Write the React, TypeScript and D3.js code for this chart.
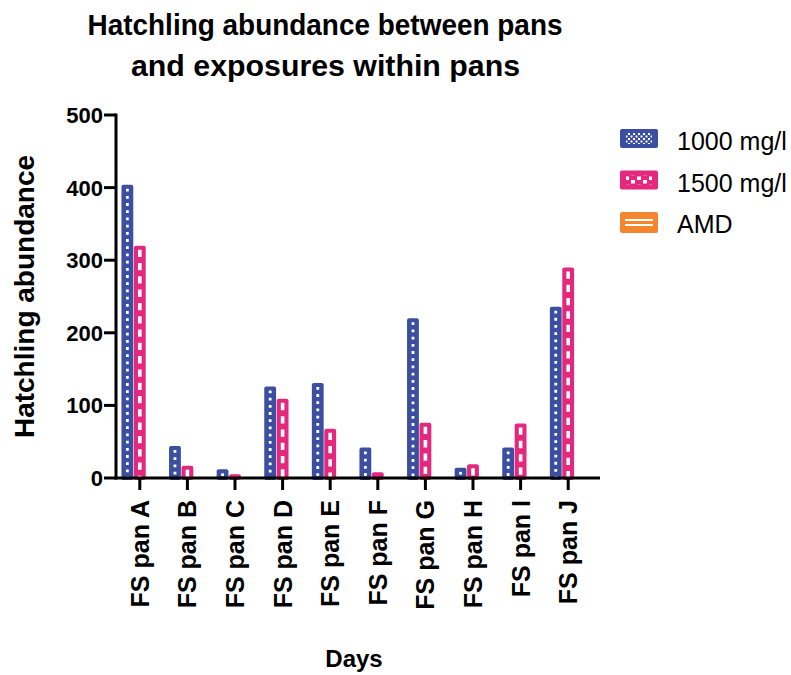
import React from "react";
import * as d3 from "d3";

// Pans along the x axis
const categories = [
  "FS pan A", "FS pan B", "FS pan C", "FS pan D", "FS pan E",
  "FS pan F", "FS pan G", "FS pan H", "FS pan I", "FS pan J",
];
// Series names (AMD has no bars drawn)
const seriesNames = ["1000 mg/l", "1500 mg/l", "AMD"];
const values1000 = [404, 44, 12, 126, 131, 42, 220, 14, 42, 236];
const values1500 = [320, 17, 5, 109, 68, 8, 76, 19, 75, 290];
const valuesAMD: (number | null)[] = [null, null, null, null, null, null, null, null, null, null];
const yTicks = [0, 100, 200, 300, 400, 500];
const titleLines = ["Hatchling abundance between pans", "and exposures within pans"];

const W = 791;
const H = 675;
const FONT = "'Liberation Sans', Arial, Helvetica, sans-serif";
const BLUE = "#3b4ea0";
const PINK = "#e4287d";
const ORANGE = "#f5862e";

const plot = { left: 116, right: 592, top: 115, bottom: 478 };

export default function App() {
  const x = d3.scaleBand<string>().domain(categories).range([plot.left, plot.right]);
  const groupWidth = 37.3;
  const xs = d3.scaleBand<string>().domain(seriesNames).range([0, groupWidth]);
  const y = d3.scaleLinear().domain([0, 500]).range([plot.bottom, plot.top]);

  const series = [
    { name: seriesNames[0], values: values1000, color: BLUE, dashW: 2.8, dash: "2.8 4.4" },
    { name: seriesNames[1], values: values1500, color: PINK, dashW: 3.6, dash: "7.3 6" },
    { name: seriesNames[2], values: valuesAMD, color: ORANGE, dashW: 2, dash: "" },
  ];

  const bw = xs.bandwidth();

  return (
    <svg width={W} height={H} style={{ position: "absolute", left: 0, top: 0, background: "#fff" }}>
      <defs>
        <pattern id="pat-blue" width="5" height="5" patternUnits="userSpaceOnUse">
          <rect width="5" height="5" fill={BLUE} />
          <rect x="0.5" y="0.5" width="2" height="2" fill="#fff" />
          <rect x="3" y="3" width="2" height="2" fill="#fff" />
        </pattern>
        <pattern id="pat-pink" width="12" height="8" patternUnits="userSpaceOnUse">
          <rect width="12" height="8" fill={PINK} />
          <rect x="1" y="0.5" width="4" height="3.5" fill="#fff" />
          <rect x="7" y="4" width="4" height="3.5" fill="#fff" />
        </pattern>
      </defs>

      {/* Title */}
      <text x={325} y={35} textAnchor="middle" fontFamily={FONT} fontWeight="bold" fontSize={30}
        textLength={475} lengthAdjust="spacingAndGlyphs">
        {titleLines[0]}
      </text>
      <text x={325.5} y={76} textAnchor="middle" fontFamily={FONT} fontWeight="bold" fontSize={30}
        textLength={389} lengthAdjust="spacingAndGlyphs">
        {titleLines[1]}
      </text>

      {/* Bars */}
      {series.map((s) =>
        categories.map((c, i) => {
          const v = s.values[i];
          if (v == null) return null;
          const bx = (x(c) as number) + (x.bandwidth() - groupWidth) / 2 + (xs(s.name) as number);
          const top = y(v);
          const h = plot.bottom - top;
          const cx = bx + bw / 2;
          return (
            <g key={s.name + c}>
              <rect x={bx + 0.3} y={top} width={bw - 0.6} height={h + 2} rx={2} fill={s.color} />
              {h > 6 && (
                <line
                  x1={cx}
                  x2={cx}
                  y1={top + 4}
                  y2={plot.bottom}
                  stroke="#fff"
                  strokeWidth={s.dashW}
                  strokeDasharray={s.dash}
                />
              )}
            </g>
          );
        })
      )}

      {/* Y axis */}
      <line x1={plot.left} x2={plot.left} y1={plot.top - 1.5} y2={plot.bottom + 1.5} stroke="#000" strokeWidth={3} />
      {yTicks.map((t) => (
        <g key={t}>
          <line x1={plot.left - 12} x2={plot.left} y1={y(t)} y2={y(t)} stroke="#000" strokeWidth={3} />
          <text x={plot.left - 13} y={y(t) + 8} textAnchor="end" fontFamily={FONT} fontWeight="bold" fontSize={22}>
            {t}
          </text>
        </g>
      ))}

      {/* X axis */}
      <line x1={plot.left - 1.5} x2={plot.right + 8} y1={plot.bottom} y2={plot.bottom} stroke="#000" strokeWidth={3} />
      {categories.map((c) => {
        const cx = (x(c) as number) + x.bandwidth() / 2;
        return (
          <g key={c}>
            <line x1={cx} x2={cx} y1={plot.bottom} y2={plot.bottom + 12} stroke="#000" strokeWidth={3} />
            <text
              transform={`translate(${cx + 9},${plot.bottom + 22}) rotate(-90)`}
              textAnchor="end"
              fontFamily={FONT}
              fontWeight="bold"
              fontSize={25}
            >
              {c}
            </text>
          </g>
        );
      })}

      {/* Axis titles */}
      <text
        transform={`translate(34,${(plot.top + plot.bottom) / 2}) rotate(-90)`}
        textAnchor="middle"
        fontFamily={FONT}
        fontWeight="bold"
        fontSize={28}
      >
        Hatchling abundance
      </text>
      <text x={354} y={667} textAnchor="middle" fontFamily={FONT} fontWeight="bold" fontSize={24}>
        Days
      </text>

      {/* Legend */}
      {series.map((s, i) => {
        const ly = 129 + i * 41.5;
        return (
          <g key={s.name}>
            {i === 0 && (
              <>
                <rect x={620} y={ly} width={38} height={19} rx={2} fill={BLUE} />
                <rect x={626} y={ly + 4} width={26} height={11} fill="url(#pat-blue)" />
              </>
            )}
            {i === 1 && (
              <>
                <rect x={620} y={ly} width={38} height={19} rx={2} fill={PINK} />
                <rect x={626} y={ly + 5} width={26} height={9} fill="url(#pat-pink)" />
              </>
            )}
            {i === 2 && (
              <>
                <rect x={620} y={ly} width={38} height={21} rx={2} fill={ORANGE} />
                <rect x={625} y={ly + 7} width={28} height={2} fill="#fff" />
                <rect x={625} y={ly + 12} width={28} height={2} fill="#fff" />
              </>
            )}
            <text x={677} y={ly + 21} fontFamily={FONT} fontSize={25}>
              {s.name}
            </text>
          </g>
        );
      })}
    </svg>
  );
}
